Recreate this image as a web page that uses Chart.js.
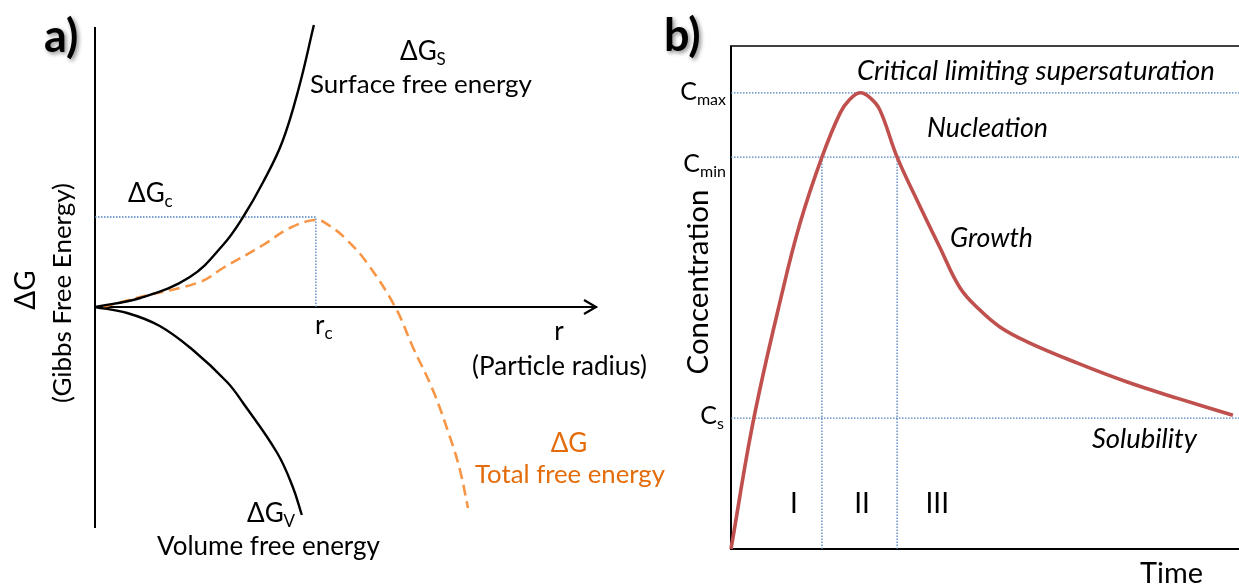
<!DOCTYPE html>
<html>
<head>
<meta charset="utf-8">
<script src="https://cdn.jsdelivr.net/npm/chart.js@4.4.0/dist/chart.umd.min.js"></script>
<style>
  html, body { margin: 0; padding: 0; background: #fff; }
  #wrap { position: relative; width: 1239px; height: 588px; overflow: hidden; }
  canvas { position: absolute; left: 0; top: 0; }
</style>
</head>
<body>
<div id="wrap">
  <canvas id="chartA" width="1239" height="588"></canvas>
  <canvas id="chartB" width="1239" height="588"></canvas>
</div>
<script>
// ---- panel a) free energy vs particle radius ----
const rSurface = [0, 0.90, 1.89, 2.55, 2.95, 3.35, 3.73, 4.06, 4.36];
const gSurface = [0, 0.18, 0.60, 1.24, 1.80, 2.50, 3.30, 4.38, 5.64];
const rVolume = [0, 0.64, 1.29, 1.95, 2.63, 2.95, 3.63, 3.94, 4.12];
const gVolume = [0, -0.12, -0.38, -0.86, -1.50, -1.92, -2.92, -3.60, -4.16];
const rTotal = [0.16, 0.90, 2.09, 2.55, 3.35, 3.88, 4.40, 4.68, 5.02, 5.42, 5.98, 6.33, 6.73, 7.07, 7.27, 7.43];
const gTotal = [0, 0.20, 0.50, 0.78, 1.24, 1.58, 1.74, 1.62, 1.34, 0.88, 0, -0.80, -1.66, -2.60, -3.26, -4.02];
const rCrit = 4.40;   // r_c
const gCrit = 1.80;   // ΔG_c

// ---- panel b) LaMer concentration vs time ----
const tCurve = [0, 0.45, 1.02, 1.36, 1.79, 2.15, 2.34, 2.54, 2.74, 2.93, 3.27, 3.66, 4.11, 4.51, 4.90, 5.30, 5.83, 6.81, 7.80, 8.78, 9.88];
const cCurve = [0, 2.60, 5.15, 6.48, 7.79, 8.67, 8.94, 9.07, 8.97, 8.73, 7.79, 6.94, 6.00, 5.19, 4.75, 4.41, 4.12, 3.70, 3.32, 3.00, 2.66];
const cLevels = [9.07, 7.79, 2.60];          // C_max, C_min, C_s
const stageBounds = [1.79, 3.27];             // I | II | III
const stageLabels = ["I", "II", "III"];
const stageCentres = [1.24, 2.58, 4.06];

const FONT = 'Lato, "Open Sans", sans-serif';
const BLUE = "#4F81BD";

function pts(xs, ys) {
  return xs.map((x, i) => ({ x: x, y: ys[i] }));
}

function txt(ctx, s, x, y, size, o) {
  o = o || {};
  ctx.save();
  ctx.font = (o.style || "") + " " + (o.weight || "") + " " + size + "px " + FONT;
  ctx.fillStyle = o.color || "#000";
  ctx.textAlign = o.align || "left";
  ctx.textBaseline = "alphabetic";
  if (o.shadow) {
    ctx.shadowColor = "rgba(0,0,0,0.45)";
    ctx.shadowBlur = 4;
    ctx.shadowOffsetX = 2;
    ctx.shadowOffsetY = 2;
  }
  if (o.rotate) {
    ctx.translate(x, y);
    ctx.rotate(-Math.PI / 2);
    ctx.fillText(s, 0, 0);
  } else {
    ctx.fillText(s, x, y);
  }
  ctx.restore();
}

// centred text scaled so it spans width w (the reference font is narrower than Lato)
function txtW(ctx, s, x, y, w, o) {
  o = o || {};
  ctx.save();
  ctx.font = (o.style || "") + " 100px " + FONT;
  const size = 100 * w / ctx.measureText(s).width;
  ctx.restore();
  txt(ctx, s, x, y, size, Object.assign({ align: "center" }, o));
}

// text with a subscript, e.g. ΔG + "S"
function subTxt(ctx, main, s, x, y, size, o) {
  o = o || {};
  const small = Math.round(size * 0.64);
  ctx.save();
  ctx.font = size + "px " + FONT;
  const w1 = ctx.measureText(main).width;
  ctx.font = small + "px " + FONT;
  const w2 = ctx.measureText(s).width;
  ctx.restore();
  let x0 = x;
  if (o.align === "right") x0 = x - w1 - w2;
  txt(ctx, main, x0, y, size, { color: o.color });
  txt(ctx, s, x0 + w1, y + size * 0.2, small, { color: o.color });
}

function line(ctx, x1, y1, x2, y2, w) {
  ctx.save();
  ctx.strokeStyle = "#000";
  ctx.lineWidth = w;
  ctx.beginPath();
  ctx.moveTo(x1, y1);
  ctx.lineTo(x2, y2);
  ctx.stroke();
  ctx.restore();
}

const panelA = {
  id: "panelA",
  beforeDatasetsDraw(chart) {
    const ctx = chart.ctx, xs = chart.scales.x, ys = chart.scales.y;
    const x0 = xs.getPixelForValue(0), y0 = ys.getPixelForValue(0);
    const xEnd = xs.getPixelForValue(10);
    line(ctx, x0, chart.chartArea.top, x0, chart.chartArea.bottom, 2);
    line(ctx, x0, y0, xEnd, y0, 2.2);
    // arrow head
    ctx.save();
    ctx.strokeStyle = "#000";
    ctx.lineWidth = 2.2;
    ctx.beginPath();
    ctx.moveTo(xEnd - 13, y0 - 7);
    ctx.lineTo(xEnd - 1, y0);
    ctx.lineTo(xEnd - 13, y0 + 7);
    ctx.stroke();
    ctx.restore();
  },
  afterDraw(chart) {
    const ctx = chart.ctx;
    txt(ctx, "a)", 44, 52, 45, { weight: "bold", shadow: true });
    subTxt(ctx, "ΔG", "S", 400, 60, 26);
    txtW(ctx, "Surface free energy", 421, 93, 222);
    subTxt(ctx, "ΔG", "c", 128, 202, 26);
    subTxt(ctx, "r", "c", 315, 334, 26);
    txt(ctx, "r", 559, 340, 26, { align: "center" });
    txtW(ctx, "(Particle radius)", 559.5, 375, 175);
    txt(ctx, "ΔG", 569, 452, 26, { align: "center", color: "#E46C0A" });
    txtW(ctx, "Total free energy", 570, 483, 190, { color: "#E46C0A" });
    subTxt(ctx, "ΔG", "V", 247, 522, 26);
    txtW(ctx, "Volume free energy", 268.5, 555, 223);
    txt(ctx, "ΔG", 35, 290, 28, { align: "center", rotate: true });
    txtW(ctx, "(Gibbs Free Energy)", 71, 293, 220, { rotate: true });
  }
};

const panelB = {
  id: "panelB",
  beforeDatasetsDraw(chart) {
    const ctx = chart.ctx, xs = chart.scales.x, ys = chart.scales.y;
    const a = chart.chartArea;
    const x0 = xs.getPixelForValue(0), y0 = ys.getPixelForValue(0);
    line(ctx, x0, a.top, x0, y0 + 1, 2);
    line(ctx, x0 - 1, y0, a.right, y0, 2);
    line(ctx, x0 - 1, a.top, a.right, a.top, 1.6);
  },
  afterDraw(chart) {
    const ctx = chart.ctx, xs = chart.scales.x;
    txt(ctx, "b)", 664, 51, 45, { weight: "bold", shadow: true });
    txtW(ctx, "Critical limiting supersaturation", 1036, 80, 358, { style: "italic" });
    txtW(ctx, "Nucleation", 987.5, 137, 121, { style: "italic" });
    txtW(ctx, "Growth", 991.5, 247, 83, { style: "italic" });
    txtW(ctx, "Solubility", 1144.5, 448, 105, { style: "italic" });
    subTxt(ctx, "C", "max", 726, 100, 25, { align: "right" });
    subTxt(ctx, "C", "min", 726, 172, 25, { align: "right" });
    subTxt(ctx, "C", "s", 724, 424, 25, { align: "right" });
    txtW(ctx, "Concentration", 708, 282, 185, { rotate: true });
    stageLabels.forEach((s, i) => {
      txt(ctx, s, xs.getPixelForValue(stageCentres[i]), 513, 28, { align: "center" });
    });
    txtW(ctx, "Time", 1171.5, 583, 63);
  }
};

const dotted = { borderColor: BLUE, borderWidth: 1.3, borderDash: [1.5, 1.5], pointRadius: 0, fill: false, tension: 0 };
const curve = { pointRadius: 0, tension: 0.4, fill: false, clip: false };

new Chart(document.getElementById("chartA"), {
  type: "line",
  data: {
    datasets: [
      Object.assign({ data: pts(rSurface, gSurface), borderColor: "#000", borderWidth: 2.4 }, curve),
      Object.assign({ data: pts(rVolume, gVolume), borderColor: "#000", borderWidth: 2.4 }, curve),
      Object.assign({ data: pts(rTotal, gTotal), borderColor: "#F79646", borderWidth: 2.6, borderDash: [11, 6] }, curve),
      Object.assign({ data: [{ x: 0, y: gCrit }, { x: rCrit, y: gCrit }] }, dotted),
      Object.assign({ data: [{ x: rCrit, y: 0 }, { x: rCrit, y: gCrit }] }, dotted)
    ]
  },
  options: {
    responsive: false,
    animation: false,
    devicePixelRatio: 1,
    layout: { padding: { left: 95, top: 27, right: 642, bottom: 60 } },
    scales: {
      x: { type: "linear", min: 0, max: 10, display: false },
      y: { type: "linear", min: -4.42, max: 5.6, display: false }
    },
    plugins: { legend: { display: false }, tooltip: { enabled: false } }
  },
  plugins: [panelA]
});

const levelSets = cLevels.map(c => Object.assign({ data: [{ x: 0, y: c }, { x: 10, y: c }] }, dotted));
const boundSets = stageBounds.map(t => Object.assign({ data: [{ x: t, y: 0 }, { x: t, y: cLevels[1] }] }, dotted));

new Chart(document.getElementById("chartB"), {
  type: "line",
  data: {
    datasets: [
      Object.assign({ data: pts(tCurve, cCurve), borderColor: "#C0504D", borderWidth: 3.6 }, curve)
    ].concat(levelSets, boundSets)
  },
  options: {
    responsive: false,
    animation: false,
    devicePixelRatio: 1,
    layout: { padding: { left: 731, top: 46, right: 0, bottom: 39 } },
    scales: {
      x: { type: "linear", min: 0, max: 10, display: false },
      y: { type: "linear", min: 0, max: 10, display: false }
    },
    plugins: { legend: { display: false }, tooltip: { enabled: false } }
  },
  plugins: [panelB]
});
</script>
</body>
</html>
